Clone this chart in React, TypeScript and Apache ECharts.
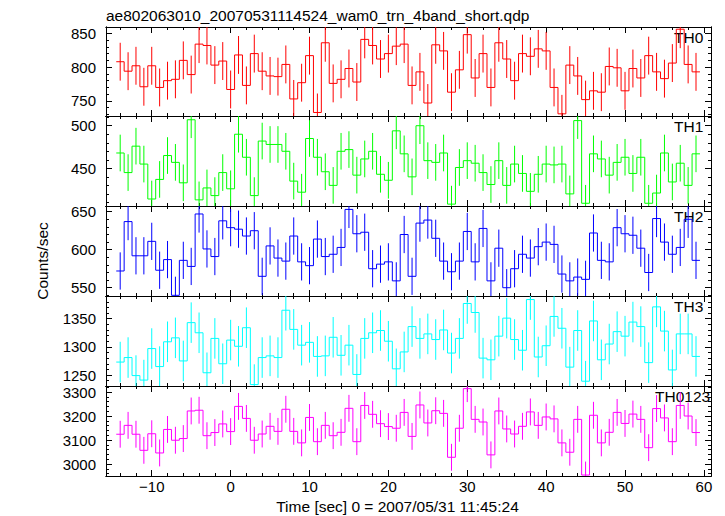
import React, { useEffect, useRef } from 'react';
import * as echarts from 'echarts';

// Bin centres (s) relative to 2007/05/31 11:45:24
const TIMES = [
  -14, -13, -12, -11, -10, -9, -8, -7, -6, -5, -4, -3, -2, -1, 0, 1, 2, 3, 4, 5,
  6, 7, 8, 9, 10, 11, 12, 13, 14, 15, 16, 17, 18, 19, 20, 21, 22, 23, 24, 25,
  26, 27, 28, 29, 30, 31, 32, 33, 34, 35, 36, 37, 38, 39, 40, 41, 42, 43, 44, 45,
  46, 47, 48, 49, 50, 51, 52, 53, 54, 55, 56, 57, 58, 59,
];

const TH0 = [
  808, 794, 802, 771, 802, 770, 780, 782, 810, 789, 834, 832, 803, 809, 767, 818, 773, 820, 794, 787,
  786, 804, 753, 777, 817, 733, 836, 776, 782, 798, 778, 841, 832, 812, 820,
  831, 834, 773, 793, 747, 833, 824, 763, 796, 848, 784, 820, 770, 836, 812,
  780, 820, 816, 827, 824, 770, 731, 803, 787, 752, 765, 763, 801, 799, 765,
  798, 784, 817, 793, 783, 806, 856, 804, 793,
];
const TH1 = [
  468, 445, 476, 455, 414, 437, 465, 457, 433, 507, 413, 427, 418, 445, 426, 490, 463, 418, 482, 478,
  478, 470, 435, 422, 485, 463, 446, 430, 470, 472, 442, 461, 470, 443, 436,
  494, 467, 440, 500, 459, 457, 468, 408, 451, 459, 456, 445, 431, 459, 430,
  455, 444, 423, 443, 455, 454, 455, 420, 506, 409, 467, 461, 442, 457, 463,
  444, 463, 409, 421, 468, 434, 456, 430, 467,
];
const TH2 = [
  572, 637, 592, 592, 611, 573, 587, 540, 586, 578, 647, 601, 591, 638, 629, 627, 618, 625, 565, 605,
  589, 585, 618, 584, 579, 614, 591, 594, 603, 653, 621, 623, 575, 581, 584,
  559, 620, 565, 635, 639, 615, 585, 571, 585, 624, 584, 628, 559, 602, 550,
  575, 594, 589, 604, 610, 607, 568, 559, 564, 561, 622, 586, 584, 629, 621,
  619, 602, 570, 641, 610, 594, 603, 640, 586,
];
const TH3 = [
  1273, 1281, 1249, 1241, 1297, 1265, 1309, 1316, 1275, 1343, 1325, 1254, 1315, 1270, 1312, 1301, 1334, 1233, 1281, 1284,
  1281, 1365, 1331, 1303, 1308, 1283, 1284, 1317, 1285, 1303, 1251, 1315, 1325, 1329, 1310,
  1261, 1291, 1336, 1315, 1323, 1313, 1330, 1289, 1315, 1377, 1361, 1280, 1277, 1319, 1351,
  1313, 1294, 1384, 1282, 1302, 1354, 1333, 1264, 1329, 1239, 1346, 1277, 1305, 1327, 1319,
  1344, 1336, 1272, 1371, 1328, 1259, 1323, 1323, 1283,
];
const TH0123 = [
  3124, 3161, 3124, 3057, 3126, 3046, 3144, 3099, 3106, 3221, 3224, 3118, 3131, 3167, 3135, 3240, 3190, 3099, 3125, 3157,
  3136, 3228, 3136, 3088, 3194, 3093, 3161, 3118, 3132, 3232, 3093, 3244, 3207, 3168, 3156,
  3149, 3215, 3115, 3246, 3171, 3222, 3211, 3028, 3149, 3314, 3186, 3175, 3038, 3221, 3146,
  3125, 3157, 3217, 3161, 3196, 3188, 3088, 3049, 3186, 2954, 3203, 3088, 3132, 3215, 3169,
  3208, 3186, 3068, 3231, 3192, 3093, 3244, 3200, 3131,
];

// typical 1-sigma error per band (counts/sec)
const TH0_ERR = 28;
const TH1_ERR = 21.5;
const TH2_ERR = 24.5;
const TH3_ERR = 36;
const TH0123_ERR = 56;

// tick values
const X_MAJOR = [-10, 0, 10, 20, 30, 40, 50, 60];
const X_MINOR = [-14, -12, -8, -6, -4, -2, 2, 4, 6, 8, 12, 14, 16, 18, 22, 24, 26, 28, 32, 34, 36, 38, 42, 44, 46, 48, 52, 54, 56, 58];
const TH0_TICKS = [750, 800, 850];
const TH0_MINOR = [730, 740, 760, 770, 780, 790, 810, 820, 830, 840];
const TH1_TICKS = [450, 500];
const TH1_MINOR = [410, 420, 430, 440, 460, 470, 480, 490, 510];
const TH2_TICKS = [550, 600, 650];
const TH2_MINOR = [540, 560, 570, 580, 590, 610, 620, 630, 640];
const TH3_TICKS = [1250, 1300, 1350];
const TH3_MINOR = [1240, 1260, 1270, 1280, 1290, 1310, 1320, 1330, 1340, 1360, 1370, 1380, 1390];
const TH0123_TICKS = [3000, 3100, 3200, 3300];
const TH0123_MINOR = [2960, 2980, 3020, 3040, 3060, 3080, 3120, 3140, 3160, 3180, 3220, 3240, 3260, 3280, 3320];

const FONT = '"Liberation Sans", Arial, Helvetica, sans-serif';
const X_MIN = -15.8;
const X_MAX = 60.9;

const PANELS = [
  { name: 'TH0', values: TH0, err: TH0_ERR, color: '#ff0000', min: 727.8, max: 859.3, major: TH0_TICKS, minor: TH0_MINOR, top: 27, height: 89, labelX: 674 },
  { name: 'TH1', values: TH1, err: TH1_ERR, color: '#00ff00', min: 405.8, max: 511.4, major: TH1_TICKS, minor: TH1_MINOR, top: 116, height: 90, labelX: 674 },
  { name: 'TH2', values: TH2, err: TH2_ERR, color: '#0000ff', min: 539.1, max: 657.5, major: TH2_TICKS, minor: TH2_MINOR, top: 206, height: 90, labelX: 674 },
  { name: 'TH3', values: TH3, err: TH3_ERR, color: '#00ffff', min: 1230.5, max: 1390.3, major: TH3_TICKS, minor: TH3_MINOR, top: 296, height: 90, labelX: 674 },
  { name: 'TH0123', values: TH0123, err: TH0123_ERR, color: '#ff00ff', min: 2950, max: 3325, major: TH0123_TICKS, minor: TH0123_MINOR, top: 386, height: 90, labelX: 655 },
];

const fmtNum = (v: number) => (v < 0 ? '\u2212' + Math.abs(v) : String(v));

function xAxis(g: number, pos: string, values: number[], len: number, showLabel: boolean) {
  return {
    type: 'value', gridIndex: g, min: X_MIN, max: X_MAX, position: pos,
    axisLine: { show: true, onZero: false, lineStyle: { color: '#000', width: 1 } },
    axisTick: { show: true, inside: true, length: len, customValues: values, lineStyle: { color: '#000', width: 1 } },
    axisLabel: { show: showLabel, customValues: values, margin: 3, color: '#000', fontSize: 15, fontFamily: FONT, formatter: fmtNum },
    splitLine: { show: false },
  };
}

function yAxis(g: number, pos: string, min: number, max: number, values: number[], len: number, showLabel: boolean) {
  return {
    type: 'value', gridIndex: g, min, max, position: pos, scale: true,
    axisLine: { show: true, onZero: false, lineStyle: { color: '#000', width: 1 } },
    axisTick: { show: true, inside: true, length: len, customValues: values, lineStyle: { color: '#000', width: 1 } },
    axisLabel: { show: showLabel, customValues: values, margin: 10, color: '#000', fontSize: 15, fontFamily: FONT, formatter: fmtNum },
    splitLine: { show: false },
  };
}

export default function App() {
  const ref = useRef<HTMLDivElement>(null);
  useEffect(() => {
    if (!ref.current) return;
    const chart = echarts.init(ref.current, null, { renderer: 'svg' });
    const grids: any[] = [];
    const xAxes: any[] = [];
    const yAxes: any[] = [];
    const series: any[] = [];
    const graphics: any[] = [];
    PANELS.forEach((p, g) => {
      grids.push({ left: 106, right: 14, top: p.top, height: p.height, show: false });
      xAxes.push(xAxis(g, 'bottom', X_MAJOR, 6, g === PANELS.length - 1));
      xAxes.push(xAxis(g, 'bottom', X_MINOR, 3, false));
      xAxes.push(xAxis(g, 'top', X_MAJOR, 6, false));
      xAxes.push(xAxis(g, 'top', X_MINOR, 3, false));
      yAxes.push(yAxis(g, 'left', p.min, p.max, p.major, 6, true));
      yAxes.push(yAxis(g, 'left', p.min, p.max, p.minor, 3, false));
      yAxes.push(yAxis(g, 'right', p.min, p.max, p.major, 6, false));
      yAxes.push(yAxis(g, 'right', p.min, p.max, p.minor, 3, false));
      const vals = p.values;
      const color = p.color;
      const err = p.err;
      series.push({
        type: 'custom', name: p.name, xAxisIndex: 4 * g, yAxisIndex: 4 * g, clip: true, silent: true,
        data: TIMES.map((t, i) => [t, vals[i]]),
        renderItem: (params: any, api: any) => {
          const i = params.dataIndex;
          const t = api.value(0);
          const v = api.value(1);
          const pL = api.coord([t - 0.5, v]);
          const pR = api.coord([t + 0.5, v]);
          const pHi = api.coord([t, v + err]);
          const pLo = api.coord([t, v - err]);
          const st = { stroke: color, lineWidth: 1, fill: 'none' };
          const children: any[] = [
            { type: 'line', shape: { x1: pL[0], y1: pL[1], x2: pR[0], y2: pR[1] }, style: st },
            { type: 'line', shape: { x1: pHi[0], y1: pHi[1], x2: pLo[0], y2: pLo[1] }, style: st },
          ];
          if (i < vals.length - 1) {
            const pN = api.coord([t + 0.5, vals[i + 1]]);
            children.push({ type: 'line', shape: { x1: pR[0], y1: pR[1], x2: pN[0], y2: pN[1] }, style: st });
          }
          return { type: 'group', children };
        },
      });
      graphics.push({
        type: 'text', x: p.labelX, y: p.top + 10.5, silent: true,
        style: { text: p.name, fill: '#000', fontSize: 15.5, fontFamily: FONT, align: 'left', verticalAlign: 'middle' },
      });
    });
    graphics.push({
      type: 'text', x: 106, y: 15.5, silent: true,
      style: { text: 'ae802063010_20070531114524_wam0_trn_4band_short.qdp', fill: '#000', fontSize: 15.5, fontFamily: FONT, align: 'left', verticalAlign: 'middle' },
    });
    graphics.push({
      type: 'text', x: 397.5, y: 506, silent: true,
      style: { text: 'Time [sec] 0 = 2007/05/31 11:45:24', fill: '#000', fontSize: 15.5, fontFamily: FONT, align: 'center', verticalAlign: 'middle' },
    });
    graphics.push({
      type: 'text', x: 42, y: 261, rotation: Math.PI / 2, silent: true,
      style: { text: 'Counts/sec', fill: '#000', fontSize: 15.5, fontFamily: FONT, align: 'center', verticalAlign: 'middle' },
    });
    chart.setOption({
      animation: false,
      backgroundColor: '#ffffff',
      grid: grids,
      xAxis: xAxes,
      yAxis: yAxes,
      series,
      graphic: graphics,
    });
    return () => chart.dispose();
  }, []);
  return <div ref={ref} style={{ position: 'fixed', left: 0, top: 0, width: 725, height: 516, background: '#fff' }} />;
}
